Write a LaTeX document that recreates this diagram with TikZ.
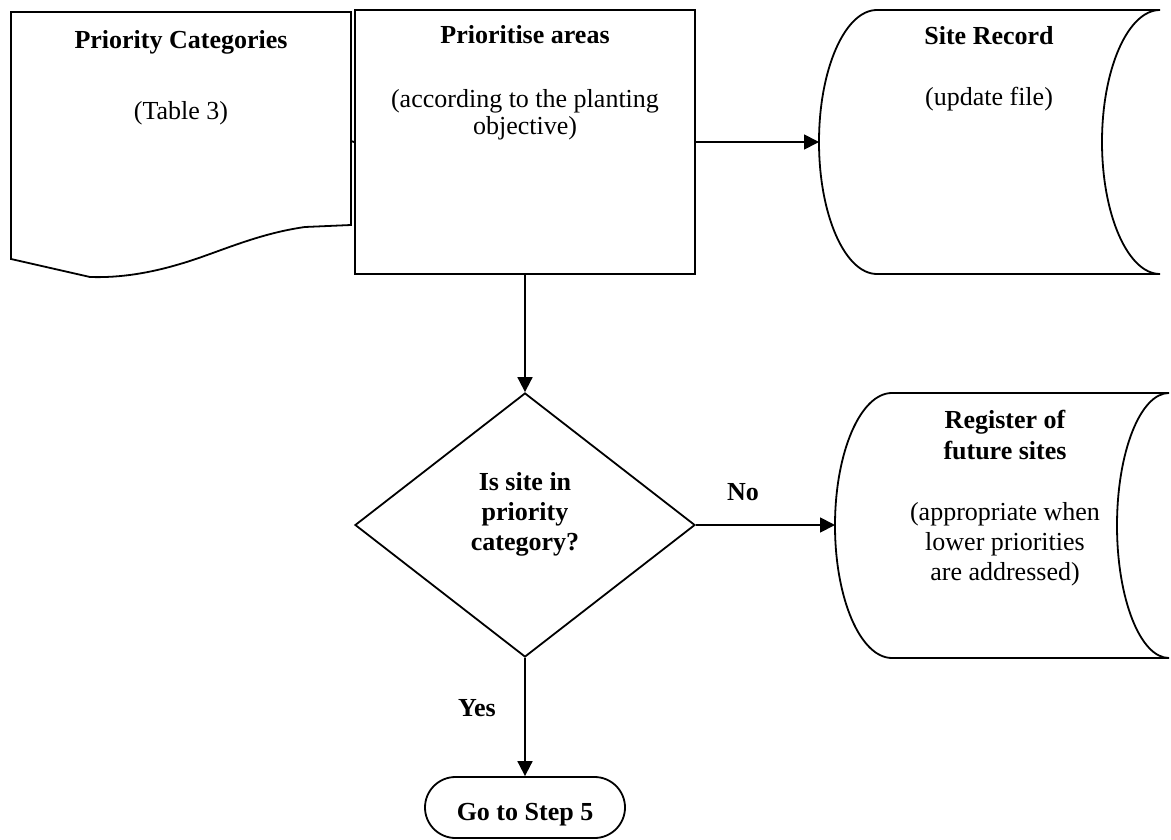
\documentclass[tikz,border=0pt]{standalone}
\usepackage{fontspec}
\setmainfont{Liberation Serif}
\usetikzlibrary{shapes.geometric,arrows.meta}
\begin{document}
\begin{tikzpicture}[x=1pt,y=-1pt,
  line width=1.8pt,
  outline/.style={draw, line width=1.8pt, line join=miter},
  txt/.style={font=\fontsize{26}{30}\selectfont, anchor=base, align=center, inner sep=0pt},
  btxt/.style={font=\fontsize{26}{30}\selectfont\bfseries, anchor=base, align=center, inner sep=0pt},
  arr/.style={line width=1.8pt, -{Triangle[length=15pt,width=15pt]}}]
\useasboundingbox (0,0) rectangle (1171,840);

% document shape
\draw[outline] (11,12) -- (351,12) -- (351,225) -- (305,227)
  .. controls (255,234) and (215,254) .. (180,264)
  .. controls (150,273) and (120,278) .. (90,277) -- (11,259) -- cycle;
\coordinate (docE) at (351,141);

% process box
\node[outline, minimum width=340pt, minimum height=264pt, inner sep=0pt] (prio) at (525,142) {};

% site record (stored data)
\draw[outline] (877,10) -- (1160,10)
  .. controls (1128,10) and (1102,69.1) .. (1102,142)
  .. controls (1102,214.9) and (1128,274) .. (1160,274) -- (877,274)
  .. controls (845,274) and (819,214.9) .. (819,142)
  .. controls (819,69.1) and (845,10) .. (877,10) -- cycle;
\coordinate (siteW) at (819,142);

% decision
\node[outline, diamond, minimum width=340pt, minimum height=264pt, inner sep=0pt] (dec) at (525,525) {};

% register (stored data)
\draw[outline] (892,393) -- (1169,393)
  .. controls (1140.3,393) and (1117,452.3) .. (1117,525.5)
  .. controls (1117,598.7) and (1140.3,658) .. (1169,658) -- (892,658)
  .. controls (860.5,658) and (835,598.7) .. (835,525.5)
  .. controls (835,452.3) and (860.5,393) .. (892,393) -- cycle;
\coordinate (regW) at (835,525);

% terminator
\node[outline, rounded corners=30.5pt, minimum width=200pt, minimum height=61pt, inner sep=0pt] (go) at (525,807.5) {};

% texts (anchor base = baseline of the last line)
\node[btxt] (tPC) at (181,49) {Priority Categories};
\node[txt] (tT3) at (181,120) {(Table 3)};
\node[btxt] (tPA) at (525,44) {Prioritise areas};
\node[txt, font=\fontsize{26}{27}\selectfont] (tPO) at (525,135) {(according to the planting\\objective)};
\node[btxt] (tSR) at (989,45) {Site Record};
\node[txt] (tUF) at (989,106) {(update file)};
\node[btxt, font=\fontsize{26}{31}\selectfont\bfseries] (tRF) at (1005,459) {Register of\\future sites};
\node[txt] (tAP) at (1005,580) {(appropriate when\\lower priorities\\are addressed)};
\node[btxt] (tIS) at (525,550) {Is site in\\priority\\category?};
\node[btxt] (tNo) at (743,500) {No};
\node[btxt] (tYes) at (477,716) {Yes};
\node[btxt] (tGo) at (525,820) {Go to Step 5};

% connectors
\draw[line width=1.8pt] (docE) -- (prio.west);
\draw[arr] (prio.east) -- (siteW);
\draw[arr] (prio.south) -- (dec.north);
\draw[arr] (dec.east) -- (regW);
\draw[arr] (dec.south) -- (go.north);
\end{tikzpicture}
\end{document}
